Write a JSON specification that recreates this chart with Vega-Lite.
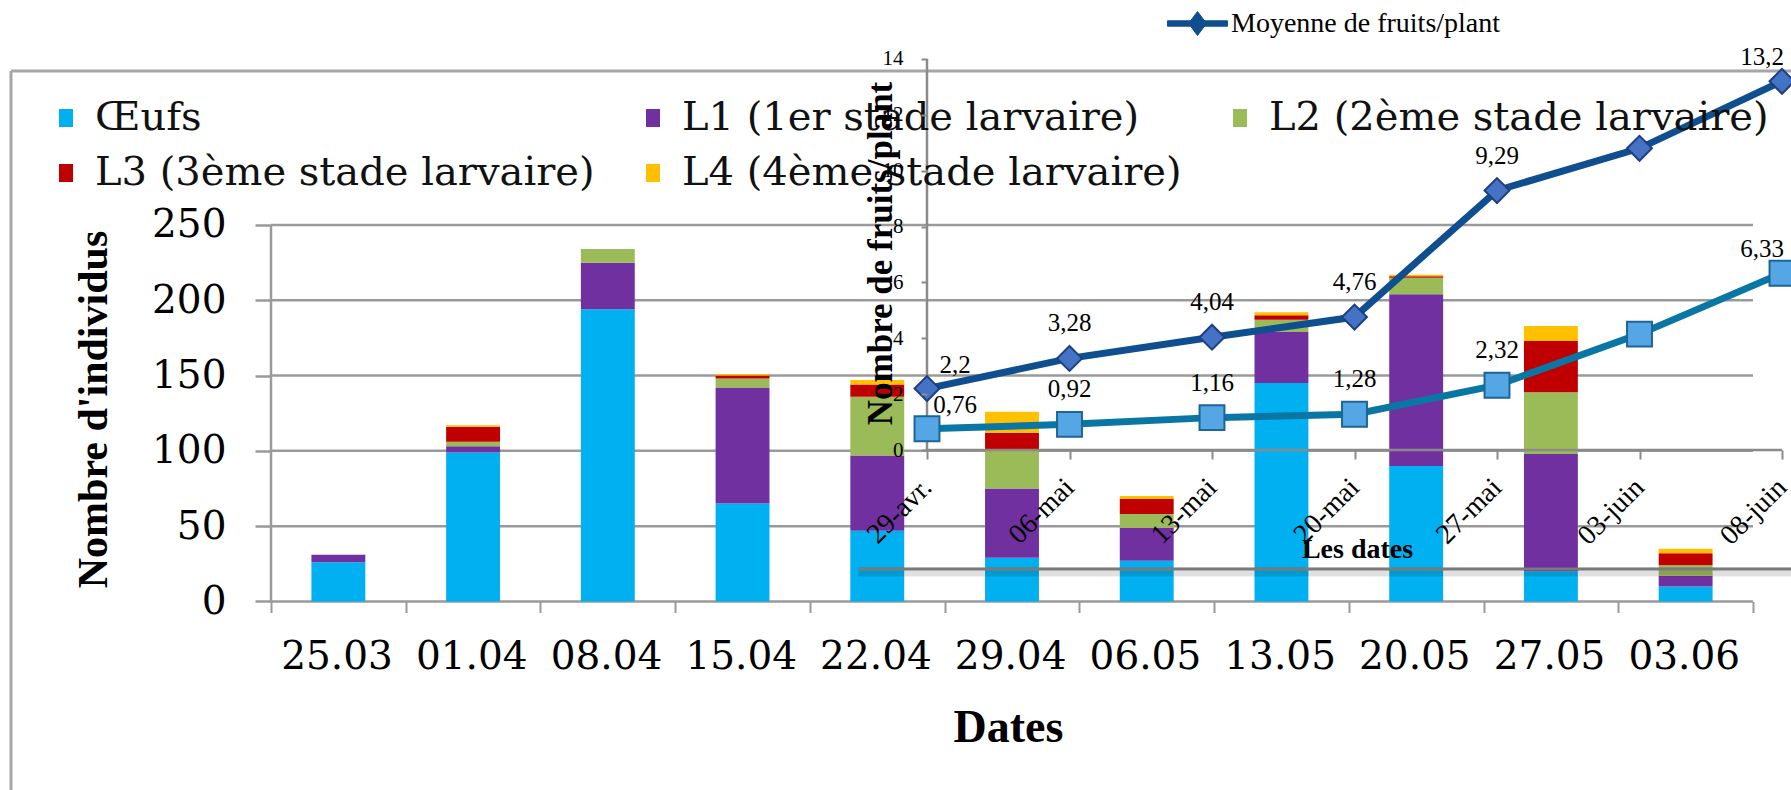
{
  "$schema": "https://vega.github.io/schema/vega-lite/v6.json",
  "width": 1780,
  "height": 740,
  "autosize": {"type": "none"},
  "padding": {"left": 11, "top": 50, "right": 0, "bottom": 0},
  "background": "#ffffff",
  "config": {
    "view": {"stroke": null},
    "locale": {"number": {"decimal": ",", "thousands": " ", "grouping": [3], "currency": ["", " €"]}},
    "axis": {"labelColor": "#000000", "titleColor": "#000000"},
    "legend": {"padding": 0}
  },
  "datasets": {
    "stades": [
      {"date": "25.03", "stade": "Œufs", "n": 26},
      {"date": "25.03", "stade": "L1 (1er stade larvaire)", "n": 5},
      {"date": "01.04", "stade": "Œufs", "n": 99},
      {"date": "01.04", "stade": "L1 (1er stade larvaire)", "n": 4},
      {"date": "01.04", "stade": "L2 (2ème stade larvaire)", "n": 3},
      {"date": "01.04", "stade": "L3 (3ème stade larvaire)", "n": 10},
      {"date": "01.04", "stade": "L4 (4ème stade larvaire)", "n": 1},
      {"date": "08.04", "stade": "Œufs", "n": 194},
      {"date": "08.04", "stade": "L1 (1er stade larvaire)", "n": 31},
      {"date": "08.04", "stade": "L2 (2ème stade larvaire)", "n": 9},
      {"date": "15.04", "stade": "Œufs", "n": 65},
      {"date": "15.04", "stade": "L1 (1er stade larvaire)", "n": 77},
      {"date": "15.04", "stade": "L2 (2ème stade larvaire)", "n": 6},
      {"date": "15.04", "stade": "L3 (3ème stade larvaire)", "n": 2},
      {"date": "15.04", "stade": "L4 (4ème stade larvaire)", "n": 1},
      {"date": "22.04", "stade": "Œufs", "n": 47},
      {"date": "22.04", "stade": "L1 (1er stade larvaire)", "n": 50},
      {"date": "22.04", "stade": "L2 (2ème stade larvaire)", "n": 39},
      {"date": "22.04", "stade": "L3 (3ème stade larvaire)", "n": 8},
      {"date": "22.04", "stade": "L4 (4ème stade larvaire)", "n": 3},
      {"date": "29.04", "stade": "Œufs", "n": 29},
      {"date": "29.04", "stade": "L1 (1er stade larvaire)", "n": 46},
      {"date": "29.04", "stade": "L2 (2ème stade larvaire)", "n": 26},
      {"date": "29.04", "stade": "L3 (3ème stade larvaire)", "n": 11},
      {"date": "29.04", "stade": "L4 (4ème stade larvaire)", "n": 14},
      {"date": "06.05", "stade": "Œufs", "n": 27},
      {"date": "06.05", "stade": "L1 (1er stade larvaire)", "n": 22},
      {"date": "06.05", "stade": "L2 (2ème stade larvaire)", "n": 9},
      {"date": "06.05", "stade": "L3 (3ème stade larvaire)", "n": 10},
      {"date": "06.05", "stade": "L4 (4ème stade larvaire)", "n": 2},
      {"date": "13.05", "stade": "Œufs", "n": 145},
      {"date": "13.05", "stade": "L1 (1er stade larvaire)", "n": 34},
      {"date": "13.05", "stade": "L2 (2ème stade larvaire)", "n": 8},
      {"date": "13.05", "stade": "L3 (3ème stade larvaire)", "n": 3},
      {"date": "13.05", "stade": "L4 (4ème stade larvaire)", "n": 2},
      {"date": "20.05", "stade": "Œufs", "n": 90},
      {"date": "20.05", "stade": "L1 (1er stade larvaire)", "n": 114},
      {"date": "20.05", "stade": "L2 (2ème stade larvaire)", "n": 11},
      {"date": "20.05", "stade": "L3 (3ème stade larvaire)", "n": 1},
      {"date": "20.05", "stade": "L4 (4ème stade larvaire)", "n": 1},
      {"date": "27.05", "stade": "Œufs", "n": 20},
      {"date": "27.05", "stade": "L1 (1er stade larvaire)", "n": 78},
      {"date": "27.05", "stade": "L2 (2ème stade larvaire)", "n": 41},
      {"date": "27.05", "stade": "L3 (3ème stade larvaire)", "n": 34},
      {"date": "27.05", "stade": "L4 (4ème stade larvaire)", "n": 10},
      {"date": "03.06", "stade": "Œufs", "n": 10},
      {"date": "03.06", "stade": "L1 (1er stade larvaire)", "n": 7},
      {"date": "03.06", "stade": "L2 (2ème stade larvaire)", "n": 7},
      {"date": "03.06", "stade": "L3 (3ème stade larvaire)", "n": 8},
      {"date": "03.06", "stade": "L4 (4ème stade larvaire)", "n": 3}
    ],
    "fruits": [
      {"date": "29-avr.", "serie": "Moyenne de fruits/plant", "moyenne": 2.2},
      {"date": "06-mai", "serie": "Moyenne de fruits/plant", "moyenne": 3.28},
      {"date": "13-mai", "serie": "Moyenne de fruits/plant", "moyenne": 4.04},
      {"date": "20-mai", "serie": "Moyenne de fruits/plant", "moyenne": 4.76},
      {"date": "27-mai", "serie": "Moyenne de fruits/plant", "moyenne": 9.29},
      {"date": "03-juin", "serie": "Moyenne de fruits/plant", "moyenne": 10.8},
      {"date": "08-juin", "serie": "Moyenne de fruits/plant", "moyenne": 13.2},
      {"date": "29-avr.", "serie": "Série 2", "moyenne": 0.76},
      {"date": "06-mai", "serie": "Série 2", "moyenne": 0.92},
      {"date": "13-mai", "serie": "Série 2", "moyenne": 1.16},
      {"date": "20-mai", "serie": "Série 2", "moyenne": 1.28},
      {"date": "27-mai", "serie": "Série 2", "moyenne": 2.32},
      {"date": "03-juin", "serie": "Série 2", "moyenne": 4.15},
      {"date": "08-juin", "serie": "Série 2", "moyenne": 6.33}
    ]
  },
  "layer": [
    {
      "data": {"values": [{}]},
      "layer": [
        {
          "mark": {"type": "rule", "color": "#a6a6a6", "strokeWidth": 3},
          "encoding": {
            "y": {"datum": 352.3, "type": "quantitative", "scale": {"domain": [-125.2, 366.2], "nice": false, "zero": false}, "axis": null}
          }
        },
        {
          "mark": {"type": "rule", "color": "#a6a6a6", "strokeWidth": 3},
          "encoding": {
            "x": {"datum": 0, "type": "quantitative", "scale": {"domain": [0, 1], "nice": false, "zero": false}, "axis": null},
            "y": {"datum": 352.3, "type": "quantitative", "axis": null},
            "y2": {"datum": -125.2}
          }
        }
      ]
    },
    {
      "layer": [
        {
          "data": {"values": [{"graduation": 0}, {"graduation": 50}, {"graduation": 100}, {"graduation": 150}, {"graduation": 200}, {"graduation": 250}]},
          "mark": {"type": "rule", "color": "#9a9a9a", "strokeWidth": 2.5},
          "encoding": {
            "y": {"field": "graduation", "type": "quantitative"},
            "x": {"datum": "25.03", "type": "nominal", "bandPosition": 0},
            "x2": {"datum": "03.06", "bandPosition": 1}
          }
        },
        {
          "data": {"values": [{}]},
          "mark": {"type": "rule", "color": "#9a9a9a", "strokeWidth": 2.5},
          "encoding": {
            "x": {"datum": "25.03", "type": "nominal", "bandPosition": 0},
            "y": {"datum": 0, "type": "quantitative"},
            "y2": {"datum": 250}
          }
        },
        {
          "data": {"name": "stades"},
          "transform": [
            {"calculate": "indexof(['Œufs', 'L1 (1er stade larvaire)', 'L2 (2ème stade larvaire)', 'L3 (3ème stade larvaire)', 'L4 (4ème stade larvaire)'], datum.stade)", "as": "ordre"}
          ],
          "mark": {"type": "bar", "width": {"band": 0.4}},
          "encoding": {
            "x": {
              "field": "date", "type": "nominal",
              "scale": {"type": "band", "domain": ["25.03", "01.04", "08.04", "15.04", "22.04", "29.04", "06.05", "13.05", "20.05", "27.05", "03.06"], "range": [260, 1742], "paddingInner": 0, "paddingOuter": 0},
              "axis": {
                "orient": "bottom", "offset": -188.5, "domain": false, "grid": false,
                "tickBand": "extent", "tickSize": 11, "tickWidth": 2, "tickColor": "#9a9a9a",
                "labelAngle": 0, "labelFont": "DejaVu Serif", "labelFontSize": 39, "labelPadding": 44, "labelBaseline": "middle", "labelOffset": 54,
                "title": "Dates", "titleFont": "Liberation Serif", "titleFontSize": 46, "titleFontWeight": "bold",
                "titleX": 997, "titleY": 126, "titleBaseline": "middle", "titleAlign": "center"
              }
            },
            "y": {
              "field": "n", "type": "quantitative", "stack": "zero",
              "scale": {"domain": [-125.2, 366.2], "nice": false, "zero": false},
              "axis": {
                "orient": "left", "offset": -260, "values": [0, 50, 100, 150, 200, 250], "domain": false, "grid": false,
                "tickSize": 16, "tickWidth": 2.5, "tickColor": "#9a9a9a",
                "labelFont": "DejaVu Serif", "labelFontSize": 39, "labelPadding": 29,
                "title": "Nombre d'individus", "titleFont": "Liberation Serif", "titleFontSize": 42, "titleFontWeight": "bold",
                "titleAngle": -90, "titleX": -178, "titleY": 359, "titleBaseline": "middle", "titleAlign": "center"
              }
            },
            "color": {
              "field": "stade", "type": "nominal",
              "scale": {
                "domain": ["Œufs", "L1 (1er stade larvaire)", "L2 (2ème stade larvaire)", "L3 (3ème stade larvaire)", "L4 (4ème stade larvaire)"],
                "range": ["#00b0f0", "#7030a0", "#9bbb59", "#c00000", "#ffc000"]
              },
              "legend": {
                "orient": "none", "legendX": 35, "legendY": 48, "direction": "horizontal", "columns": 3, "gridAlign": "all",
                "title": null, "symbolType": "M-0.78,-1H0.78V1H-0.78Z", "symbolSize": 324, "symbolStrokeWidth": 0,
                "labelFont": "DejaVu Serif", "labelFontSize": 40, "labelColor": "#111111", "labelOffset": 9, "labelLimit": 1000,
                "columnPadding": 38, "rowPadding": 15
              }
            },
            "order": {"field": "ordre", "type": "quantitative"}
          }
        },
        {
          "data": {"values": [{}]},
          "mark": {"type": "rule", "color": "#000000", "strokeWidth": 9, "opacity": 0.12},
          "encoding": {
            "x": {"datum": "22.04", "type": "nominal", "bandPosition": 0.36},
            "x2": {"datum": "03.06", "bandPosition": 1.3},
            "y": {"datum": 19.5, "type": "quantitative"}
          }
        },
        {
          "data": {"values": [{}]},
          "mark": {"type": "rule", "color": "#7a7a7a", "strokeWidth": 3},
          "encoding": {
            "x": {"datum": "22.04", "type": "nominal", "bandPosition": 0.36},
            "x2": {"datum": "03.06", "bandPosition": 1.3},
            "y": {"datum": 21.6, "type": "quantitative"}
          }
        }
      ]
    },
    {
      "data": {"name": "fruits"},
      "layer": [
        {
          "data": {"values": [{}]},
          "mark": {"type": "rule", "color": "#8a8a8a", "strokeWidth": 2.5},
          "encoding": {
            "x": {"datum": "29-avr.", "type": "ordinal"},
            "x2": {"datum": "08-juin"},
            "y": {"datum": 0, "type": "quantitative"}
          }
        },
        {
          "data": {"values": [{}]},
          "mark": {"type": "rule", "color": "#8a8a8a", "strokeWidth": 2.5},
          "encoding": {
            "x": {"datum": "29-avr.", "type": "ordinal"},
            "y": {"datum": 0, "type": "quantitative"},
            "y2": {"datum": 14}
          }
        },
        {
          "mark": {"type": "line", "strokeWidth": 7},
          "encoding": {
            "x": {
              "field": "date", "type": "ordinal",
              "scale": {"type": "point", "domain": ["29-avr.", "06-mai", "13-mai", "20-mai", "27-mai", "03-juin", "08-juin"], "range": [916, 1771], "padding": 0},
              "axis": {
                "orient": "bottom", "offset": -340, "domain": false, "grid": false, "zindex": 1,
                "tickSize": 9, "tickWidth": 2, "tickColor": "#8a8a8a",
                "labelAngle": -45, "labelAlign": "right", "labelBaseline": "middle",
                "labelFont": "Liberation Serif", "labelFontSize": 28, "labelPadding": 24,
                "title": "Les dates", "titleFont": "Liberation Serif", "titleFontSize": 28, "titleFontWeight": "bold",
                "titleX": 1346, "titleY": 99, "titleBaseline": "middle", "titleAlign": "center"
              }
            },
            "y": {
              "field": "moyenne", "type": "quantitative",
              "scale": {"domain": [-12.17, 14.32], "nice": false, "zero": false},
              "axis": {
                "orient": "left", "offset": -916, "values": [0, 2, 4, 6, 8, 10, 12, 14], "domain": false, "grid": false, "zindex": 1,
                "tickSize": 6, "tickWidth": 2, "tickColor": "#8a8a8a",
                "labelFont": "Liberation Serif", "labelFontSize": 21, "labelPadding": 18,
                "title": "Nombre de fruits/plant", "titleFont": "Liberation Serif", "titleFontSize": 35, "titleFontWeight": "bold",
                "titleAngle": -90, "titleX": -47, "titleY": 203, "titleBaseline": "middle", "titleAlign": "center"
              }
            },
            "color": {
              "field": "serie", "type": "nominal",
              "scale": {"domain": ["Moyenne de fruits/plant", "Série 2"], "range": ["#0f4f8f", "#0a76a4"]},
              "legend": {
                "orient": "none", "legendX": 1156, "legendY": -57, "values": ["Moyenne de fruits/plant"], "title": null,
                "symbolType": "M-1,-0.09H1V0.09H-1Z M0,-0.4L0.3,0L0,0.4L-0.3,0Z", "symbolSize": 3600,
                "symbolFillColor": "#0f4f8f", "symbolStrokeColor": "#0f4f8f", "symbolStrokeWidth": 1,
                "labelFont": "Liberation Serif", "labelFontSize": 28, "labelOffset": 3, "labelLimit": 1000, "labelColor": "#000000"
              }
            }
          }
        },
        {
          "mark": {"type": "point", "filled": true, "opacity": 1, "strokeWidth": 2},
          "encoding": {
            "x": {"field": "date", "type": "ordinal"},
            "y": {"field": "moyenne", "type": "quantitative"},
            "shape": {"field": "serie", "type": "nominal", "scale": {"domain": ["Moyenne de fruits/plant", "Série 2"], "range": ["diamond", "square"]}, "legend": null},
            "size": {"field": "serie", "type": "ordinal", "scale": {"domain": ["Moyenne de fruits/plant", "Série 2"], "range": [620, 620]}, "legend": null},
            "fill": {"field": "serie", "type": "nominal", "scale": {"domain": ["Moyenne de fruits/plant", "Série 2"], "range": ["#4472c4", "#55a6e4"]}, "legend": null},
            "stroke": {"field": "serie", "type": "nominal", "scale": {"domain": ["Moyenne de fruits/plant", "Série 2"], "range": ["#1f3f80", "#1b6597"]}, "legend": null}
          }
        },
        {
          "transform": [{"filter": "datum.date !== '03-juin'"}],
          "mark": {
            "type": "text", "font": "Liberation Serif", "fontSize": 25, "color": "#000000", "align": "center", "baseline": "middle",
            "dx": {"expr": "datum.date === '29-avr.' ? 28 : (datum.date === '08-juin' ? -20 : 0)"},
            "dy": {"expr": "datum.date === '29-avr.' ? -24 : (datum.date === '08-juin' ? -24 : -35)"}
          },
          "encoding": {
            "x": {"field": "date", "type": "ordinal"},
            "y": {"field": "moyenne", "type": "quantitative"},
            "text": {"field": "moyenne", "type": "quantitative", "format": ".2~f"}
          }
        }
      ]
    }
  ],
  "resolve": {
    "scale": {"x": "independent", "y": "independent", "color": "independent"},
    "axis": {"x": "independent", "y": "independent"},
    "legend": {"color": "independent"}
  }
}
